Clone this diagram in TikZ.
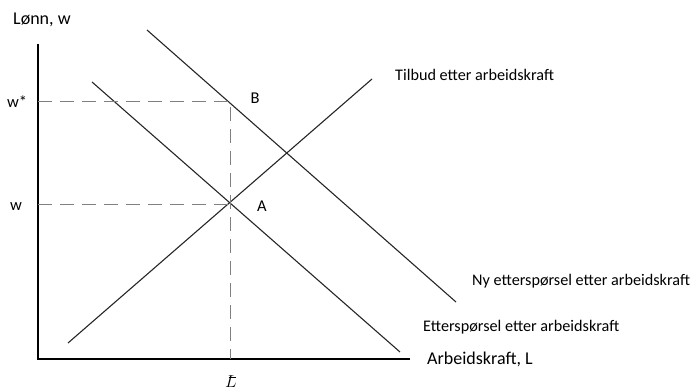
\documentclass[tikz,border=0pt]{standalone}
\usepackage{fontspec}
\setmainfont{Carlito}
\begin{document}
\begin{tikzpicture}[x=1pt,y=-1pt,
  axis/.style={line width=2.8pt},
  curve/.style={line width=1.1pt,draw=black!85},
  guide/.style={line width=0.9pt,draw=black!50,dash pattern=on 14pt off 8pt},
  lbl/.style={anchor=west,inner sep=0pt,font=\fontsize{16.2}{18}\selectfont},
  axlbl/.style={anchor=west,inner sep=0pt,font=\fontsize{18}{20}\selectfont},
  pt/.style={inner sep=0pt,font=\fontsize{16.5}{18}\selectfont}]
\useasboundingbox (0,0) rectangle (693,390);
% axes
\coordinate (O) at (38,359);
\coordinate (ytop) at (38,44);
\coordinate (xend) at (410,359);
\draw[axis] (ytop) -- (O) -- (xend);
% curves
\coordinate (s1) at (68,343);
\coordinate (s2) at (372,79);
\coordinate (d1) at (92,82);
\coordinate (d2) at (400,352);
\coordinate (n1) at (147,30);
\coordinate (n2) at (456,302);
\draw[curve] (s1) -- (s2);
\draw[curve] (d1) -- (d2);
\draw[curve] (n1) -- (n2);
% guides
\coordinate (A) at (230,204);
\coordinate (B) at (230,101);
\coordinate (wy) at (38,204);
\coordinate (wsy) at (38,101);
\coordinate (Lx) at (230,359);
\draw[guide] (wsy) -- (B) -- (Lx);
\draw[guide] (wy) -- (A);
% labels
\node[axlbl] (ylab) at (13,20) {Lønn, w};
\node[axlbl] (xlab) at (427,359) {Arbeidskraft, L};
\node[pt,anchor=west] (wstar) at (7,102) {w*};
\node[pt,anchor=west] (wlab) at (10,207) {w};
\node[pt] (Blab) at (255,98) {B};
\node[pt] (Alab) at (262,206) {A};
\node[inner sep=0pt,font=\fontsize{16}{18}\selectfont] (Lbar) at (231,382) {$L$};
\draw[line width=0.8pt] ([xshift=-2.5pt,yshift=-2pt]Lbar.north) -- ([xshift=4.5pt,yshift=-2pt]Lbar.north);
\node[lbl] (tilbud) at (395,75) {Tilbud etter arbeidskraft};
\node[lbl] (ny) at (472,281) {Ny etterspørsel etter arbeidskraft};
\node[lbl] (ett) at (423,327) {Etterspørsel etter arbeidskraft};
\end{tikzpicture}
\end{document}
